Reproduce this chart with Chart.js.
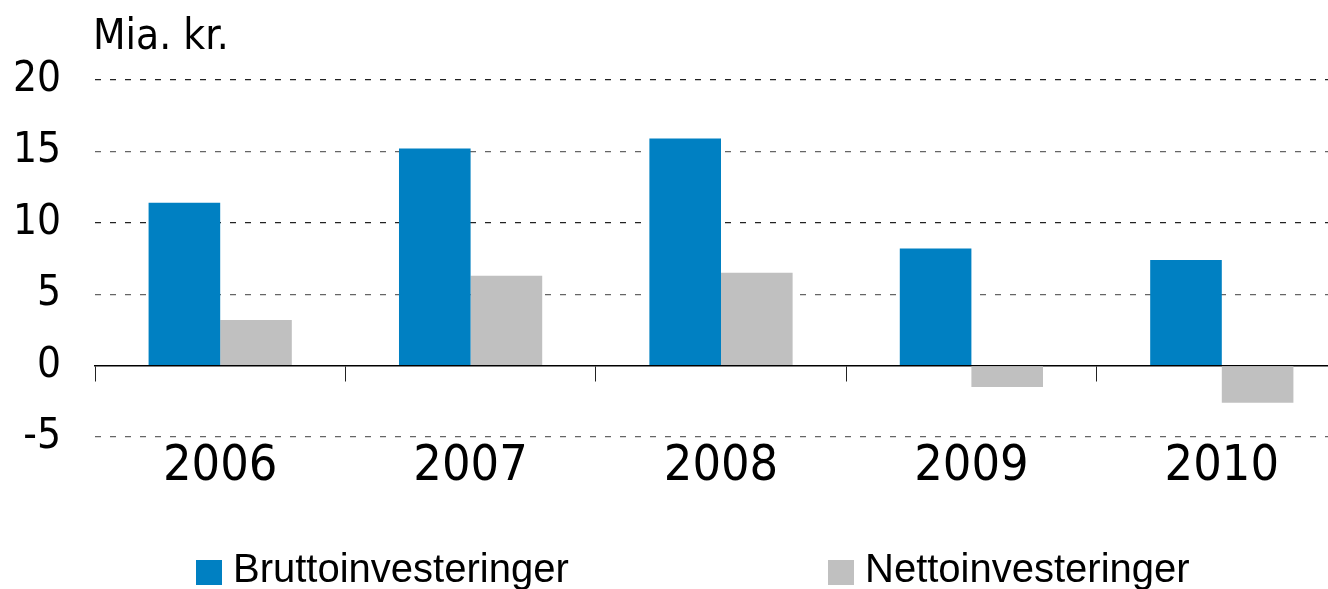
<!DOCTYPE html>
<html>
<head>
<meta charset="utf-8">
<script src="https://cdn.jsdelivr.net/npm/chart.js@4/dist/chart.umd.min.js"></script>
<style>
  html, body { margin: 0; padding: 0; background: #fff; overflow: hidden; width: 1328px; height: 589px; }
  #c { position: absolute; left: 0; top: 0; }
</style>
</head>
<body>
<canvas id="c" width="1350" height="589"></canvas>
<script>
const categories = ['2006', '2007', '2008', '2009', '2010'];
const bruttoValues = [11.4, 15.2, 15.9, 8.2, 7.4];
const nettoValues = [3.2, 6.3, 6.5, -1.5, -2.6];
const seriesNames = ['Bruttoinvesteringer', 'Nettoinvesteringer'];
const unitLabel = 'Mia. kr.';
const yMin = -5, yMax = 20, yStep = 5;

const AXIS_FONT = "'DejaVu Sans Condensed', 'DejaVu Sans', sans-serif";
const LEGEND_FONT = "'Liberation Sans', Arial, sans-serif";

const extrasPlugin = {
  id: 'extras',
  afterDraw(chart) {
    const ctx = chart.ctx;
    ctx.save();
    ctx.fillStyle = '#000';
    ctx.font = '42px ' + AXIS_FONT;
    ctx.textAlign = 'left';
    ctx.textBaseline = 'alphabetic';
    ctx.fillText(unitLabel, chart.chartArea.left - 2, 49);
    const xs = [196, 828];
    ctx.font = '40px ' + LEGEND_FONT;
    chart.data.datasets.forEach((ds, i) => {
      ctx.fillStyle = ds.backgroundColor;
      ctx.fillRect(xs[i], 560, 26, 25);
      ctx.fillStyle = '#000';
      ctx.fillText(ds.label, xs[i] + 37, 582);
    });
    ctx.restore();
  }
};

new Chart(document.getElementById('c'), {
  type: 'bar',
  data: {
    labels: categories,
    datasets: [
      { label: seriesNames[0], data: bruttoValues, backgroundColor: '#0080C2', categoryPercentage: 0.572, barPercentage: 1.0 },
      { label: seriesNames[1], data: nettoValues, backgroundColor: '#C0C0C0', categoryPercentage: 0.572, barPercentage: 1.0 }
    ]
  },
  options: {
    responsive: false,
    animation: false,
    layout: { padding: { top: 80, right: 3, bottom: 92, left: 0 } },
    plugins: { legend: { display: false }, tooltip: { enabled: false } },
    scales: {
      x: {
        type: 'category',
        position: 'bottom',
        offset: true,
        grid: { display: false },
        border: { display: false },
        ticks: { color: '#000', padding: -8, font: { family: AXIS_FONT, size: 50 }, maxRotation: 0, autoSkip: false },
        afterFit(scale) { scale.height = 60; }
      },
      x2: {
        type: 'category',
        position: { y: 0 },
        offset: true,
        z: 1,
        grid: { display: true, offset: true, drawOnChartArea: false, drawTicks: true, tickLength: 15, color: '#222', lineWidth: 1 },
        border: { display: true, color: '#000', width: 1.5 },
        ticks: { display: false }
      },
      y: {
        min: yMin,
        max: yMax,
        position: 'left',
        ticks: { stepSize: yStep, color: '#000', padding: 34, font: { family: AXIS_FONT, size: 42 } },
        grid: {
          drawTicks: false,
          lineWidth: 1.2,
          color(ctx) {
            const v = ctx.tick && ctx.tick.value;
            if (v === 0) return 'rgba(0,0,0,0)';
            if (v === 20 || v === 10) return '#222';
            return '#666';
          }
        },
        border: { display: false, dash: [6, 9] },
        afterFit(scale) { scale.width = 95; }
      }
    }
  },
  plugins: [extrasPlugin]
});
</script>
</body>
</html>
